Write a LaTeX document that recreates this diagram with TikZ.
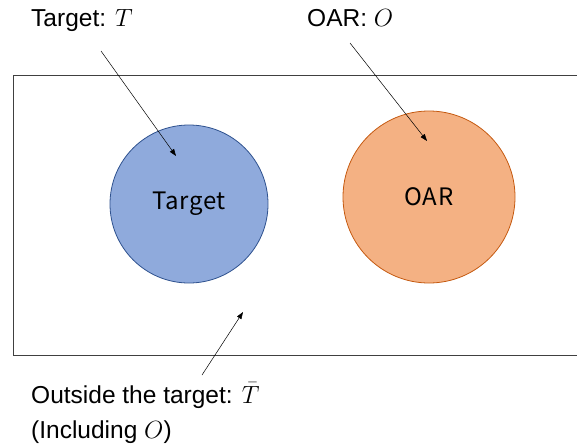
\documentclass[tikz,border=0pt]{standalone}
\usepackage{fontspec}
\setmainfont{Liberation Sans}
\newfontfamily\circfont{Noto Sans CJK JP}[LetterSpace=3]
\usetikzlibrary{arrows.meta}
\definecolor{tgtfill}{HTML}{8FAADC}
\definecolor{tgtedge}{HTML}{2F528F}
\definecolor{oarfill}{HTML}{F4B183}
\definecolor{oaredge}{HTML}{C55A11}
\definecolor{frame}{HTML}{404040}
\tikzset{
  region/.style={circle, inner sep=0pt, line width=0.8pt, font=\circfont\fontsize{24}{28}\selectfont},
  lbl/.style={inner sep=0pt, anchor=base west, font=\fontsize{24.5}{30}\selectfont},
  pointer/.style={line width=0.5pt, -{Triangle[length=7pt, width=5pt]}}
}
\begin{document}
\begin{tikzpicture}[x=1pt, y=-1pt]
  \useasboundingbox (0,0) rectangle (577,444);
  % domain frame, open on the right
  \draw[frame, line width=1pt] (577,75) -- (13,75) -- (13,355) -- (577,355);
  % the two regions
  \node[region, fill=tgtfill, draw=tgtedge, minimum size=158pt] (target) at (189,204) {Target};
  \node[region, fill=oarfill, draw=oaredge, minimum size=172pt] (oar) at (429,197) {OAR};
  % labels
  \node[lbl] (tlabel) at (31,27) {Target: $T$};
  \node[lbl] (olabel) at (307,27) {OAR: $O$};
  \node[lbl] (outlabel) at (31,403) {Outside the target: $\bar{T}$};
  \node[lbl] (inclabel) at (31,438) {(Including $O$)};
  % pointer ends
  \coordinate (tstart) at (101,51);
  \coordinate (ttip) at (176,156);
  \coordinate (ostart) at (350,43);
  \coordinate (otip) at (427,141);
  \coordinate (outstart) at (202,375);
  \coordinate (outtip) at (243,312);
  \draw[pointer] (tstart) -- (ttip);
  \draw[pointer] (ostart) -- (otip);
  \draw[pointer] (outstart) -- (outtip);
\end{tikzpicture}
\end{document}
